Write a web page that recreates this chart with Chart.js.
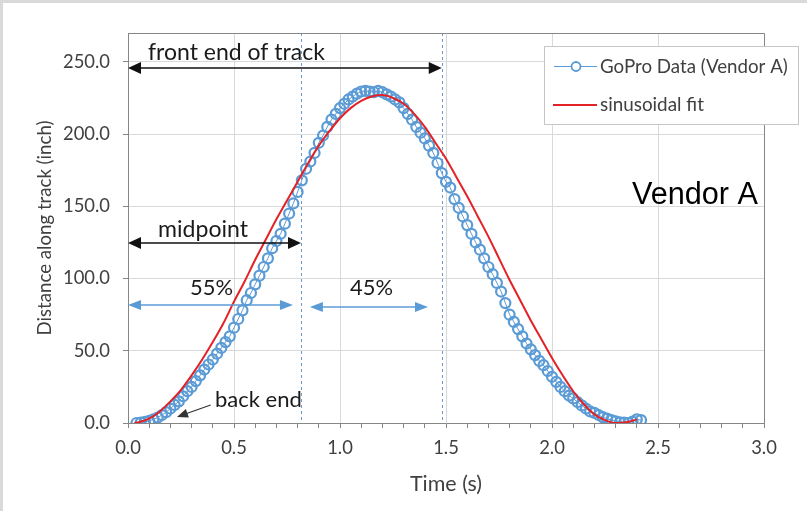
<!DOCTYPE html>
<html><head><meta charset="utf-8">
<script src="https://cdn.jsdelivr.net/npm/chart.js@4.4.1/dist/chart.umd.min.js"></script>
<style>html,body{margin:0;padding:0;background:#fff}#wrap{width:807px;height:511px;position:relative}canvas{display:block}</style>
</head><body><div id="wrap"><canvas id="c" width="807" height="511"></canvas></div>
<script>
// ---------- data ----------
const timeData = [0.04,0.06,0.08,0.10,0.12,0.14,0.16,0.18,0.20,0.22,0.24,0.26,0.28,0.30,0.32,0.34,0.36,0.38,0.40,0.42,
0.44,0.46,0.48,0.50,0.52,0.54,0.56,0.58,0.60,0.62,0.64,0.66,0.68,0.70,0.72,0.74,0.76,0.78,0.80,0.82,
0.84,0.86,0.88,0.90,0.92,0.94,0.96,0.98,1.00,1.02,1.04,1.06,1.08,1.10,1.12,1.14,1.16,1.18,1.20,1.22,
1.24,1.26,1.28,1.30,1.32,1.34,1.36,1.38,1.40,1.42,1.44,1.46,1.48,1.50,1.52,1.54,1.56,1.58,1.60,1.62,
1.64,1.66,1.68,1.70,1.72,1.74,1.76,1.78,1.80,1.82,1.84,1.86,1.88,1.90,1.92,1.94,1.96,1.98,2.00,2.02,
2.04,2.06,2.08,2.10,2.12,2.14,2.16,2.18,2.20,2.22,2.24,2.26,2.28,2.30,2.32,2.34,2.36,2.38,2.40,2.42];
const distData = [0,0.3,0.8,1.5,2.5,3.8,5.5,7.5,10,12.5,15,18.5,22,25,29,33,37,40.5,44,48,
52,56,60,66,72,78,85,90,96,102,108,114,121,126,131,138,145,152,160,168,
176,181,187,194,199,205,210,214,218,221,224,226,228,229.5,230,229.5,229,230,229,227.5,
226,224,222,218,214,210,205,201,197,192,187,180,173,167,163,155,149,143,137,131,
125,120,114,108,103,97,91,83,75,70,65,60,55,51,47,43,40,36,32,28.5,
25,22,19,17,14.5,12.2,10,8,7,5.5,4,3,2,1.2,0.5,0.2,0,1,2.5,2];
const fitTime = [0.03,0.05,0.10,0.15,0.20,0.25,0.30,0.35,0.40,0.45,0.50,0.55,0.60,0.65,0.70,0.75,0.80,0.85,0.90,0.95,
1.00,1.05,1.10,1.15,1.20,1.25,1.30,1.35,1.40,1.45,1.50,1.55,1.60,1.65,1.70,1.75,1.80,1.85,1.90,1.95,
2.00,2.05,2.10,2.15,2.20,2.25,2.30,2.35,2.40];
const fitDist = [0,0.5,3,8,15,23,33,44,56,69,84,98,113,127,141,154,167,180,192,202,
211,218,223,226,227,225,221,214,205,194,183,170,157,143,129,114,99,85,71,58,
45,33,22,13,6,2,0,0.5,2.5];
const seriesNames = ['GoPro Data (Vendor A)', 'sinusoidal fit'];
const yTickValues = [0, 50, 100, 150, 200, 250];
const xLabelValues = [0.0, 0.5, 1.0, 1.5, 2.0, 2.5, 3.0];
const xMinorStep = 0.1;
const axisTitleX = 'Time (s)';
const axisTitleY = 'Distance along track (inch)';
const markerTimes = [0.816, 1.48];
const noteTexts = {front:'front end of track', mid:'midpoint', left:'55%', right:'45%', back:'back end', vendor:'Vendor A'};

// ---------- styling helpers ----------
const FAM = 'Lato, "Open Sans", sans-serif';
const mctx = document.createElement('canvas').getContext('2d');
function fitSize(text, family, target) {
  mctx.font = '100px ' + family;
  return 100 * target / mctx.measureText(text).width;
}
const tickSize = fitSize('250.0', FAM, 47);
const yTitleSize = fitSize(axisTitleY, FAM, 215);
const xTitleSize = fitSize(axisTitleX, FAM, 72);

const xTickList = [];
for (let i = 0; i <= Math.round(3 / xMinorStep); i++) xTickList.push(Math.round(i * xMinorStep * 10) / 10);
const isMajorX = v => xLabelValues.some(m => Math.abs(m - v) < 1e-6);

function drawArrow(ctx, x1, y1, x2, y2, o) {
  const a = Math.atan2(y2 - y1, x2 - x1);
  const c = Math.cos(a), s = Math.sin(a);
  ctx.save();
  ctx.strokeStyle = o.color; ctx.fillStyle = o.color; ctx.lineWidth = o.width;
  let sx = x1, sy = y1, ex = x2, ey = y2;
  if (o.start) { sx += c * o.head * 0.8; sy += s * o.head * 0.8; }
  if (o.end) { ex -= c * o.head * 0.8; ey -= s * o.head * 0.8; }
  ctx.beginPath(); ctx.moveTo(sx, sy); ctx.lineTo(ex, ey); ctx.stroke();
  const head = (tx, ty, cc, ss) => {
    ctx.beginPath();
    ctx.moveTo(tx, ty);
    ctx.lineTo(tx - o.head * cc + o.headW / 2 * ss, ty - o.head * ss - o.headW / 2 * cc);
    ctx.lineTo(tx - o.head * cc - o.headW / 2 * ss, ty - o.head * ss + o.headW / 2 * cc);
    ctx.closePath(); ctx.fill();
  };
  if (o.end) head(x2, y2, c, s);
  if (o.start) head(x1, y1, -c, -s);
  ctx.restore();
}

function text(ctx, str, x, y, family, size, color, align) {
  ctx.save();
  ctx.font = size.toFixed(2) + 'px ' + family;
  ctx.fillStyle = color; ctx.textAlign = align || 'left'; ctx.textBaseline = 'alphabetic';
  ctx.fillText(str, x, y);
  ctx.restore();
}

const decorations = {
  id: 'decorations',
  beforeDraw(chart) {
    const ctx = chart.ctx;
    ctx.save();
    ctx.fillStyle = '#ffffff'; ctx.fillRect(0, 0, chart.width, chart.height);
    ctx.fillStyle = '#d9d9d9'; ctx.fillRect(0, 0, chart.width, 3); ctx.fillRect(0, 0, 3, chart.height);
    ctx.restore();
  },
  beforeDatasetsDraw(chart) {
    const ctx = chart.ctx, x = chart.scales.x, a = chart.chartArea;
    ctx.save();
    ctx.strokeStyle = '#6f98cf'; ctx.lineWidth = 1; ctx.setLineDash([3, 3]);
    markerTimes.forEach(t => {
      const px = Math.round(x.getPixelForValue(t)) + 0.5;
      ctx.beginPath(); ctx.moveTo(px, a.top); ctx.lineTo(px, a.bottom); ctx.stroke();
    });
    ctx.restore();
  },
  afterDatasetsDraw(chart) {
    const ctx = chart.ctx, X = chart.scales.x, Y = chart.scales.y, a = chart.chartArea;
    const px = v => X.getPixelForValue(v), py = v => Y.getPixelForValue(v);
    // plot frame (top & right)
    ctx.save();
    ctx.strokeStyle = '#868686'; ctx.lineWidth = 1;
    ctx.beginPath();
    ctx.moveTo(a.left, Math.round(a.top) + 0.5); ctx.lineTo(Math.round(a.right) + 0.5, Math.round(a.top) + 0.5);
    ctx.lineTo(Math.round(a.right) + 0.5, a.bottom); ctx.stroke();
    ctx.restore();

    const black = {color: '#111111', width: 1.6, head: 13, headW: 12, start: true, end: true};
    drawArrow(ctx, px(0), py(245.8), px(markerTimes[1]), py(245.8), black);
    drawArrow(ctx, px(0), py(124.6), px(markerTimes[0]), py(124.6), black);
    const blue = {color: '#5b9bd5', width: 1.5, head: 13, headW: 10, start: true, end: true};
    drawArrow(ctx, px(0), py(81.7), px(0.778), py(81.7), blue);
    drawArrow(ctx, px(0.858), py(80.3), px(1.415), py(80.3), blue);
    drawArrow(ctx, px(0.39), py(12.5), px(0.231), py(4.2), {color: '#333333', width: 1.2, head: 11, headW: 9, start: false, end: true});

    text(ctx, noteTexts.front, px(0.094), py(251.4), FAM, fitSize(noteTexts.front, FAM, 177), '#1a1a1a');
    text(ctx, noteTexts.mid, px(0.142), py(128.6), FAM, fitSize(noteTexts.mid, FAM, 90), '#1a1a1a');
    text(ctx, noteTexts.left, px(0.394), py(88.6), FAM, fitSize(noteTexts.left, FAM, 43), '#1a1a1a', 'center');
    text(ctx, noteTexts.right, px(1.149), py(88.6), FAM, fitSize(noteTexts.right, FAM, 43), '#1a1a1a', 'center');
    text(ctx, noteTexts.back, px(0.41), py(11.1), FAM, fitSize(noteTexts.back, FAM, 87), '#1a1a1a');
    const AR = '"Liberation Sans", Arial, sans-serif';
    text(ctx, noteTexts.vendor, px(2.377), py(151.7), AR, fitSize(noteTexts.vendor, AR, 126), '#000000');
  },
  afterDraw(chart) {
    const ctx = chart.ctx;
    const ds = chart.data.datasets;
    ctx.save();
    ctx.fillStyle = '#ffffff'; ctx.fillRect(544, 46, 254, 78);
    ctx.strokeStyle = '#c6c6c6'; ctx.lineWidth = 1; ctx.strokeRect(544.5, 46.5, 254, 78);
    // item 1
    ctx.strokeStyle = ds[0].borderColor; ctx.lineWidth = 1;
    ctx.beginPath(); ctx.moveTo(554, 66.5); ctx.lineTo(597, 66.5); ctx.stroke();
    ctx.lineWidth = 1.8; ctx.fillStyle = '#ffffff';
    ctx.beginPath(); ctx.arc(576, 66.5, 4.5, 0, Math.PI * 2); ctx.fill(); ctx.stroke();
    // item 2
    ctx.strokeStyle = ds[1].borderColor; ctx.lineWidth = ds[1].borderWidth;
    ctx.beginPath(); ctx.moveTo(553, 105); ctx.lineTo(597, 105); ctx.stroke();
    ctx.restore();
    text(ctx, seriesNames[0], 600, 72.7, FAM, fitSize(seriesNames[0], FAM, 188), '#404040');
    text(ctx, seriesNames[1], 600, 110.7, FAM, fitSize(seriesNames[1], FAM, 104), '#404040');
  }
};

new Chart(document.getElementById('c'), {
  type: 'scatter',
  data: {
    datasets: [
      {
        label: seriesNames[0],
        data: timeData.map((t, i) => ({x: t, y: distData[i]})),
        showLine: true, borderColor: '#5b9bd5', borderWidth: 1,
        pointRadius: 5, pointBorderWidth: 2.2, pointBorderColor: '#5b9bd5',
        pointBackgroundColor: 'rgba(255,255,255,0)', order: 1
      },
      {
        label: seriesNames[1],
        data: fitTime.map((t, i) => ({x: t, y: fitDist[i]})),
        showLine: true, borderColor: '#e32227', borderWidth: 2, pointRadius: 0,
        cubicInterpolationMode: 'monotone', order: 0
      }
    ]
  },
  options: {
    responsive: false, animation: false, devicePixelRatio: 1,
    layout: {padding: {top: 33, right: 43, bottom: 0, left: 0}},
    plugins: {legend: {display: false}, tooltip: {enabled: false}},
    scales: {
      x: {
        type: 'linear', min: 0, max: 3,
        afterBuildTicks: s => { s.ticks = xTickList.map(v => ({value: v})); },
        afterFit: s => { s.height = 88; },
        ticks: {
          autoSkip: false, maxRotation: 0, padding: 9,
          color: '#404040', font: {family: FAM, size: tickSize},
          callback: v => isMajorX(v) ? v.toFixed(1) : ''
        },
        grid: {
          color: c => (c.tick && isMajorX(c.tick.value)) ? '#d9d9d9' : 'rgba(0,0,0,0)',
          tickColor: '#868686', tickLength: 5, drawTicks: true
        },
        border: {color: '#868686', width: 1},
        title: {display: true, text: axisTitleX, color: '#404040', font: {family: FAM, size: xTitleSize}, padding: {top: 0, bottom: 27 - xTitleSize * 0.6}}
      },
      y: {
        type: 'linear', min: 0, max: 270,
        afterBuildTicks: s => { s.ticks = yTickValues.map(v => ({value: v})); },
        afterFit: s => { s.width = 128; },
        ticks: {
          padding: 13, color: '#404040', font: {family: FAM, size: tickSize},
          callback: v => Number(v).toFixed(1)
        },
        grid: {color: '#d9d9d9', tickColor: '#868686', tickLength: 5},
        border: {color: '#868686', width: 1},
        title: {display: true, text: axisTitleY, color: '#404040', font: {family: FAM, size: yTitleSize}, padding: {top: 45 - yTitleSize * 0.6, bottom: 0}}
      }
    }
  },
  plugins: [decorations]
});
</script>
</body></html>
